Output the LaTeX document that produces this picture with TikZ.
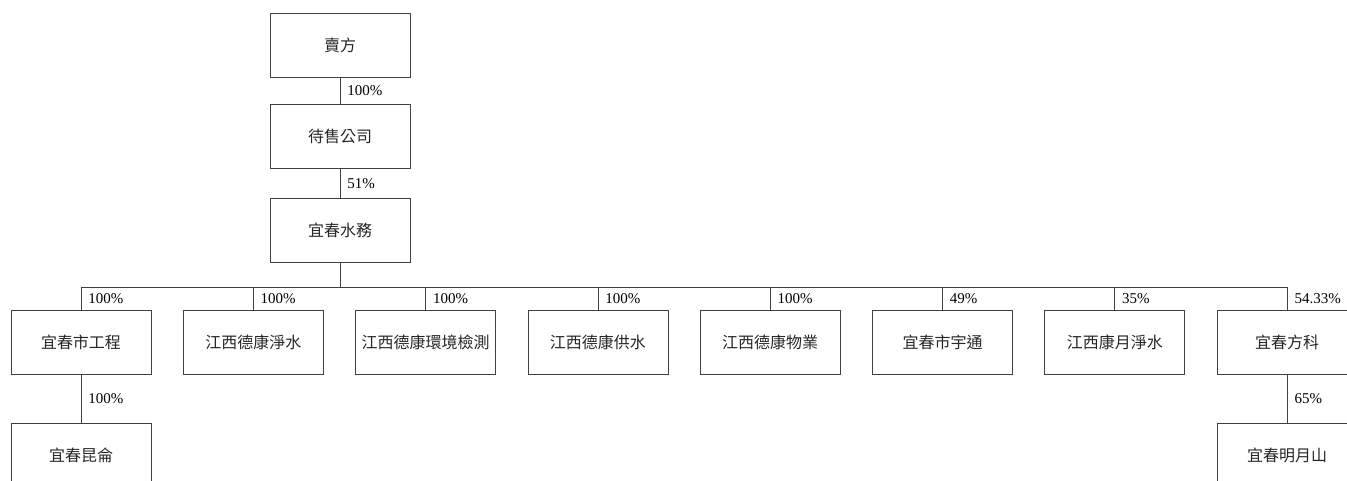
\documentclass[tikz,border=0pt]{standalone}
\usepackage{fontspec}
\setmainfont{Liberation Serif}
\newfontfamily\cjk{Noto Sans CJK TC}
\usetikzlibrary{positioning}

\begin{document}
\begin{tikzpicture}[
    x = 1pt, y = -1pt,
    line width = 0.8pt,
    link/.style = {draw = black!75},
    company/.style = {draw = black!75, rectangle, minimum width = 140pt,
        minimum height = 64pt, inner sep = 0pt, text = black!85,
        font = \cjk\fontsize{16}{19}\selectfont},
    share/.style = {right, inner sep = 3pt, xshift = 4pt, text = black,
        font = \fontsize{15}{17}\selectfont}]

\clip (0,0) rectangle (1347,481);
\useasboundingbox (0,0) rectangle (1347,481);

% top of the chain
\node[company] (maifang) at (340,45) {賣方};
\node[company] (daishou) at (340,136.5) {待售公司};
\node[company] (shuiwu) at (340,230) {宜春水務};

% subsidiaries
\node[company] (gongcheng) at (81,342) {宜春市工程};
\node[company] (jingshui) at (253.3,342) {江西德康淨水};
\node[company] (jiance) at (425.6,342) {江西德康環境檢測};
\node[company] (gongshui) at (597.9,342) {江西德康供水};
\node[company] (wuye) at (770.2,342) {江西德康物業};
\node[company] (yutong) at (942.5,342) {宜春市宇通};
\node[company] (kangyue) at (1114.8,342) {江西康月淨水};
\node[company] (fangke) at (1287.1,342) {宜春方科};

\node[company] (kunlun) at (81,455) {宜春昆侖};
\node[company] (mingyue) at (1287.1,455) {宜春明月山};

\coordinate (bus) at (340,287);

\draw[link] (maifang) -- node[share] {100\%} (daishou);
\draw[link] (daishou) -- node[share] {51\%} (shuiwu);
\draw[link] (shuiwu) -- (bus);

\draw[link] (bus) -| node[share, pos=0.75] {100\%} (gongcheng.north);
\draw[link] (bus) -| node[share, pos=0.75] {100\%} (jingshui.north);
\draw[link] (bus) -| node[share, pos=0.75] {100\%} (jiance.north);
\draw[link] (bus) -| node[share, pos=0.75] {100\%} (gongshui.north);
\draw[link] (bus) -| node[share, pos=0.75] {100\%} (wuye.north);
\draw[link] (bus) -| node[share, pos=0.75] {49\%} (yutong.north);
\draw[link] (bus) -| node[share, pos=0.75] {35\%} (kangyue.north);
\draw[link] (bus) -| node[share, pos=0.75] {54.33\%} (fangke.north);

\draw[link] (gongcheng) -- node[share] {100\%} (kunlun);
\draw[link] (fangke) -- node[share] {65\%} (mingyue);
\end{tikzpicture}
\end{document}
